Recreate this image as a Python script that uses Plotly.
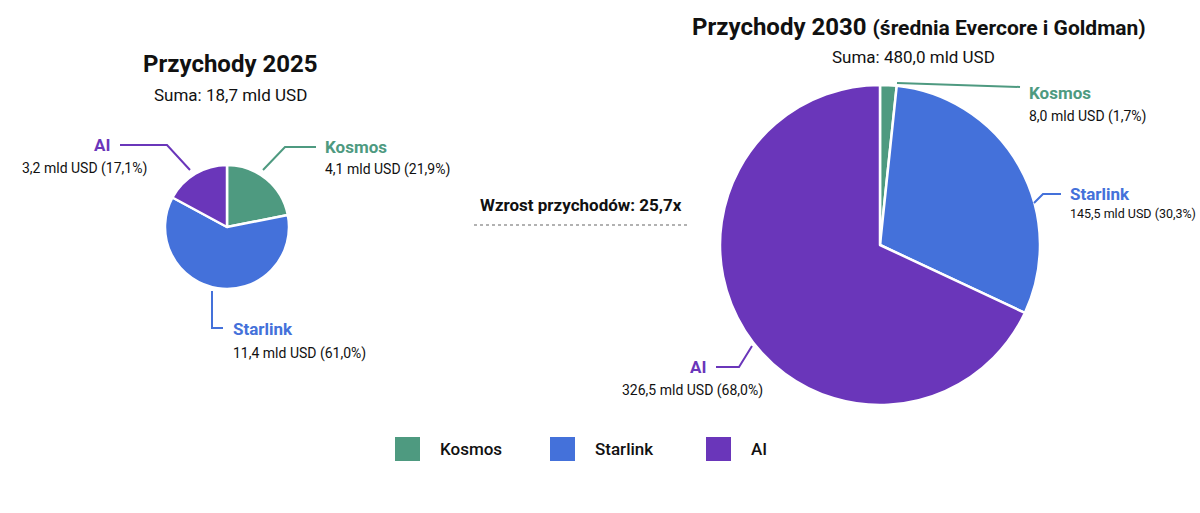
import plotly.graph_objects as go

W, H = 1200, 513

# --- Data ---
segments = ["Kosmos", "Starlink", "AI"]
colors = ["#4E9A80", "#4471DA", "#6A36BA"]
rev_2025 = [4.1, 11.4, 3.2]
rev_2030 = [8.0, 145.5, 326.5]
growth = 25.7


def px(x):
    return x / W


def py(y):
    return 1 - y / H


def pl(v, d=1):
    return f"{v:.{d}f}".replace(".", ",")


def value_text(vals, i):
    return f"{pl(vals[i])} mld USD ({pl(vals[i] / sum(vals) * 100)}%)"


FONT = "Roboto"

fig = go.Figure()

# pies
fig.add_trace(go.Pie(
    labels=segments, values=rev_2025, sort=False, direction="clockwise",
    rotation=0, textinfo="none", hoverinfo="label+value+percent",
    marker=dict(colors=colors, line=dict(color="white", width=2.5)),
    domain=dict(x=[px(165), px(289)], y=[py(289), py(165)]),
    showlegend=False,
))
fig.add_trace(go.Pie(
    labels=segments, values=rev_2030, sort=False, direction="clockwise",
    rotation=0, textinfo="none", hoverinfo="label+value+percent",
    marker=dict(colors=colors, line=dict(color="white", width=2.5)),
    domain=dict(x=[px(720), px(1040)], y=[py(405), py(85)]),
    showlegend=False,
))

ann = []
shapes = []


def text(x, y, s, size, color="#111", bold=False, xanchor="left", weight=None):
    if bold:
        s = f"<b>{s}</b>"
    font = dict(family=FONT, size=size, color=color)
    if weight:
        font["weight"] = weight
    ann.append(dict(x=px(x), y=py(y), xref="paper", yref="paper", text=s,
                    showarrow=False, xanchor=xanchor, yanchor="middle", font=font))


def line(points, color, dash=None, width=2):
    path = "M " + " L ".join(f"{px(x)},{py(y)}" for x, y in points)
    shapes.append(dict(type="path", path=path, xref="paper", yref="paper",
                       line=dict(color=color, width=width, dash=dash)))


# titles
text(230, 64, "Przychody 2025", 24, bold=True, xanchor="center")
text(230, 95, f"Suma: {pl(sum(rev_2025))} mld USD", 17, xanchor="center")
text(919, 27, "Przychody 2030 <span style='font-size:21px'>(średnia Evercore i Goldman)</span>",
     24, bold=True, xanchor="center")
text(913, 57, f"Suma: {pl(sum(rev_2030))} mld USD", 17, xanchor="center")

# 2025 labels
line([(263, 170), (285, 147), (316, 147)], colors[0])
text(323, 147, segments[0], 17, colors[0], bold=True)
text(323, 169, value_text(rev_2025, 0), 14)

line([(120, 145), (167, 145), (190, 170)], colors[2])
text(112, 145, segments[2], 17, colors[2], bold=True, xanchor="right")
text(20, 168, value_text(rev_2025, 2), 14)

line([(212, 291), (212, 328), (223, 328)], colors[1])
text(231, 329, segments[1], 17, colors[1], bold=True)
text(231, 353, value_text(rev_2025, 1), 14)

# 2030 labels
line([(897, 83), (1020, 87)], colors[0])
text(1027, 93, segments[0], 17, colors[0], bold=True)
text(1027, 116, value_text(rev_2030, 0), 14)

line([(1034, 203), (1043, 194), (1061, 194)], colors[1])
text(1068, 194, segments[1], 17, colors[1], bold=True)
text(1068, 213, value_text(rev_2030, 1), 12.5)

line([(716, 367), (739, 367), (752, 346)], colors[2])
text(708, 367, segments[2], 17, colors[2], bold=True, xanchor="right")
text(692, 390, value_text(rev_2030, 2), 14, xanchor="center")

# growth note
text(581, 205, f"Wzrost przychodów: {pl(growth)}x", 17, bold=True, xanchor="center")
line([(474, 225), (688, 225)], "#666", dash="dot", width=1.2)

# legend
legend_x = [395, 550, 706]
for i, name in enumerate(segments):
    x0 = legend_x[i]
    shapes.append(dict(type="rect", xref="paper", yref="paper",
                       x0=px(x0), x1=px(x0 + 25), y0=py(461), y1=py(437),
                       fillcolor=colors[i], line=dict(width=0)))
    text(x0 + 43, 449, name, 17, "#111", weight=500)

fig.update_layout(
    width=W, height=H, margin=dict(l=0, r=0, t=0, b=0),
    paper_bgcolor="white", plot_bgcolor="white",
    annotations=ann, shapes=shapes, showlegend=False,
    font=dict(family=FONT),
)

fig.write_html("out.html", config={"displayModeBar": False},
               post_script="document.body.style.margin='0';")
